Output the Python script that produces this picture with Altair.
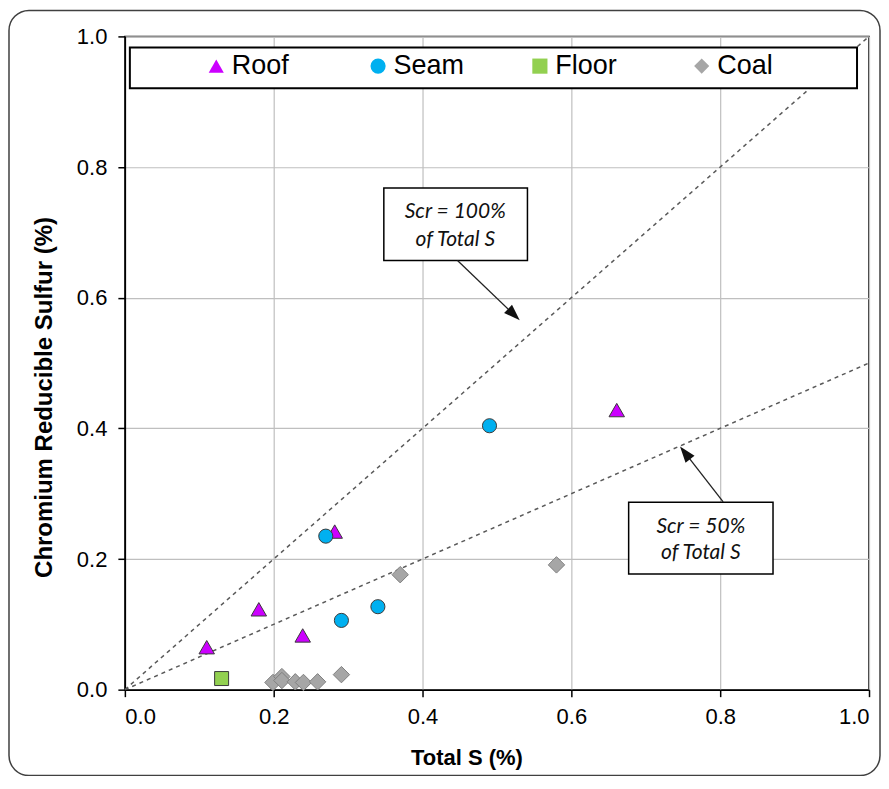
import altair as alt
import pandas as pd

# ---- data ----
series_names = ["Roof", "Seam", "Floor", "Coal"]
roof_x = [0.110, 0.180, 0.239, 0.282, 0.661]
roof_y = [0.065, 0.123, 0.083, 0.242, 0.428]
seam_x = [0.270, 0.291, 0.340, 0.490]
seam_y = [0.235, 0.106, 0.127, 0.404]
floor_x = [0.130]
floor_y = [0.017]
coal_x = [0.199, 0.211, 0.211, 0.229, 0.240, 0.259, 0.291, 0.370, 0.580]
coal_y = [0.011, 0.020, 0.014, 0.012, 0.011, 0.012, 0.023, 0.176, 0.191]

ratio_names = ["100%", "50%"]
ratio_values = [1.0, 0.5]

axis_ticks = [0.0, 0.2, 0.4, 0.6, 0.8, 1.0]

ann_line1 = ["Scr = 100%", "Scr = 50%"]
ann_line2 = ["of Total S", "of Total S"]

fills = ["#CC00FF", "#00B0F0", "#92D050", "#A6A6A6"]
strokes = ["#3a3a3a", "#3a3a3a", "#3a3a3a", "#7f7f7f"]
shapes = ["triangle-up", "circle", "square", "diamond"]
sizes = [240, 200, 196, 270]

rows = []
for i, (name, xs_, ys_) in enumerate([("Roof", roof_x, roof_y), ("Seam", seam_x, seam_y),
                                      ("Floor", floor_x, floor_y), ("Coal", coal_x, coal_y)]):
    for a, b in zip(xs_, ys_):
        rows.append({"series": name, "x": a, "y": b, "ord": i,
                     "sz": sizes[i], "st": strokes[i]})
pts = pd.DataFrame(rows)

lines = pd.DataFrame([
    {"ratio": r, "x": xv, "y": xv * v}
    for r, v in zip(ratio_names, ratio_values) for xv in (0.0, 1.0)
])

boxes = pd.DataFrame({
    "x": [0.348, 0.677], "x2": [0.541, 0.871],
    "y": [0.657, 0.177], "y2": [0.768, 0.287],
})
texts = pd.DataFrame({
    "x": [0.444, 0.444, 0.774, 0.774],
    "y": [0.731, 0.688, 0.249, 0.209],
    "t": [ann_line1[0], ann_line2[0], ann_line1[1], ann_line2[1]],
})
arrow_lines = pd.DataFrame({
    "id": ["a", "a", "b", "b"],
    "x": [0.447, 0.5218, 0.8040, 0.7536],
    "y": [0.657, 0.5752, 0.2875, 0.3613],
})
arrow_heads = pd.DataFrame({
    "x": [0.5218, 0.7536], "y": [0.5752, 0.3613], "ang": [134, 322],
})

xs = alt.Scale(domain=[0, 1], nice=False)
ys = alt.Scale(domain=[0, 1], nice=False)

FONT = "Liberation Sans, Arial, sans-serif"
ITAL = "Lato, Open Sans, sans-serif"

x_axis = alt.Axis(values=axis_ticks, format=".1f", title="Total S (%)",
                  titleX=342, titlePadding=20)
y_axis = alt.Axis(values=axis_ticks, format=".1f",
                  title="Chromium Reducible Sulfur (%)", titleY=361,
                  titlePadding=20)

one = pd.DataFrame({"a": [0]})

frame = alt.Chart(one).mark_rect(
    fill=None, stroke="#404040", strokeWidth=1.5, cornerRadius=20
).encode(x=alt.value(-116), x2=alt.value(756), y=alt.value(-26), y2=alt.value(740))

base_axes = alt.Chart(lines).mark_line(
    color="#595959", strokeDash=[4, 4], strokeWidth=1.5
).encode(
    x=alt.X("x:Q", scale=xs, axis=x_axis),
    y=alt.Y("y:Q", scale=ys, axis=y_axis),
    detail="ratio:N",
)

box_marks = alt.Chart(boxes).mark_rect(
    fill="white", stroke="black", strokeWidth=1.5
).encode(x="x:Q", x2="x2:Q", y="y:Q", y2="y2:Q")

text_marks = alt.Chart(texts).mark_text(
    font=ITAL, fontStyle="italic", fontSize=21, color="#111"
).encode(x="x:Q", y="y:Q", text="t:N")

arrow_l = alt.Chart(arrow_lines).mark_line(color="#222", strokeWidth=1.3).encode(
    x="x:Q", y="y:Q", detail="id:N")
arrow_h = alt.Chart(arrow_heads).mark_point(
    shape="M0,-1L0.7,1L-0.7,1Z", filled=True, fill="#111", stroke="#111",
    size=150, opacity=1
).encode(x="x:Q", y="y:Q", angle=alt.Angle("ang:Q", scale=None))

legend_bg = alt.Chart(one).mark_rect(
    fill="white", stroke="black", strokeWidth=2
).encode(x=alt.value(5), x2=alt.value(733), y=alt.value(11), y2=alt.value(52))

legend = alt.Legend(
    title=None, orient="none", legendX=78, legendY=16, direction="horizontal",
    columns=4, gridAlign="all", columnPadding=62, labelFont=FONT,
    labelFontSize=27, labelColor="black", symbolSize=230, labelOffset=2,
    symbolStrokeColor="#3a3a3a", symbolStrokeWidth=1, labelLimit=200,
    zindex=2,
)

points = alt.Chart(pts).mark_point(filled=True, opacity=1, strokeWidth=1).encode(
    x="x:Q", y="y:Q",
    fill=alt.Fill("series:N", scale=alt.Scale(domain=series_names, range=fills),
                  sort=series_names, legend=legend),
    shape=alt.Shape("series:N", scale=alt.Scale(domain=series_names, range=shapes),
                    sort=series_names, legend=legend),
    stroke=alt.Stroke("st:N", scale=None),
    size=alt.Size("sz:Q", scale=None),
    order=alt.Order("ord:Q"),
)

chart = alt.layer(
    frame, base_axes, box_marks, text_marks, arrow_l, arrow_h, legend_bg, points
).properties(
    width=745, height=654, autosize="none",
    padding={"left": 117, "top": 28, "right": 12, "bottom": 86},
).configure_view(
    stroke="black", strokeWidth=1.5
).configure_axis(
    grid=True, gridColor="#BFBFBF", gridWidth=1.2,
    domainColor="black", domainWidth=1.5,
    tickColor="black", tickSize=7, tickWidth=1.5,
    labelFont=FONT, labelFontSize=22, labelColor="black", labelPadding=10,
    titleFont=FONT, titleFontSize=22, titleFontWeight="bold", titleColor="black",
).configure_axisY(titleFontSize=24, labelPadding=11)

chart.save("out.html", embed_options={"renderer": "svg", "actions": False})
